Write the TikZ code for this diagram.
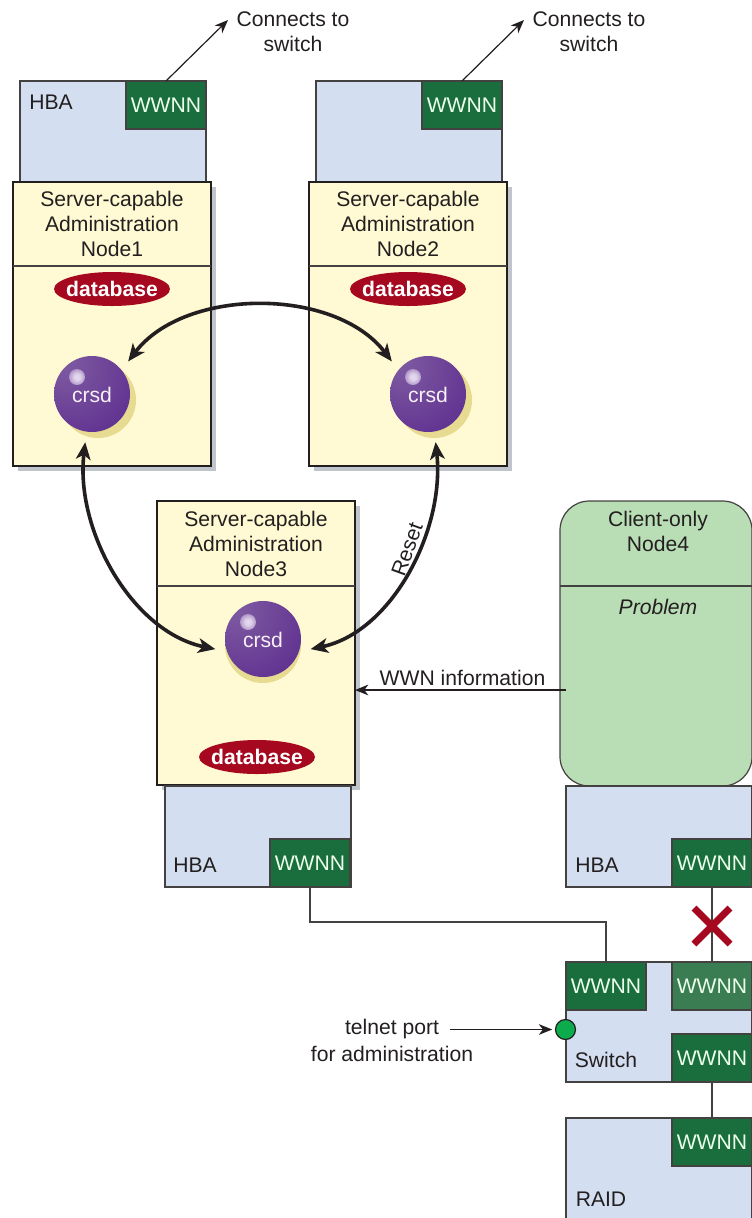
\documentclass[tikz,border=0pt]{standalone}
\usepackage{fontspec}
\setmainfont{Liberation Sans}
\usetikzlibrary{arrows.meta,shadows,calc,shapes.geometric}
\definecolor{ink}{HTML}{231F20}
\definecolor{paleyellow}{HTML}{FFFAD3}
\definecolor{paleblue}{HTML}{D3DEF0}
\definecolor{wgreen}{HTML}{1A6E3E}
\definecolor{wfade}{HTML}{3B7D53}
\definecolor{clientgreen}{HTML}{B9DDB5}
\definecolor{dbred}{HTML}{A6091F}
\definecolor{shadowgray}{HTML}{BFC5CB}
\definecolor{ballshadow}{HTML}{E6DB90}
\definecolor{portgreen}{HTML}{0CAB4B}
\pgfdeclareradialshading{crsdshade}{\pgfpoint{-20bp}{22bp}}{%
  rgb(0bp)=(0.50,0.36,0.64);
  rgb(22bp)=(0.44,0.28,0.60);
  rgb(50bp)=(0.36,0.17,0.56);
  rgb(72bp)=(0.31,0.12,0.51);
  rgb(100bp)=(0.25,0.09,0.43)}
\pgfdeclareradialshading{glintshade}{\pgfpointorigin}{%
  rgb(0bp)=(0.90,0.86,0.94);
  rgb(10bp)=(0.87,0.82,0.92);
  rgb(28bp)=(0.66,0.55,0.76);
  rgb(50bp)=(0.50,0.36,0.64);
  rgb(100bp)=(0.50,0.36,0.64)}
\tikzset{
  px/.style 2 args={minimum width=#1*0.75pt, minimum height=#2*0.75pt},
  mainfont/.style={font=\fontsize{15.85pt}{18.8pt}\selectfont},
  txt/.style={mainfont, text=ink, inner sep=0pt, outer sep=0pt, align=center},
  boxbase/.style={draw=ink!85, line width=0.9pt, fill=paleblue, inner sep=0pt, outer sep=0pt, anchor=north west},
  hbabox/.style={boxbase, px={186}{101}},
  wwnnbox/.style={boxbase, fill=wgreen, px={80}{48}, anchor=north west, text=white!92!green, mainfont},
  serverbox/.style={draw=ink, line width=2.1pt, fill=paleyellow, inner sep=0pt, outer sep=0pt, anchor=north west,
     px={198}{284}, general shadow={fill=shadowgray, shadow xshift=3.8pt, shadow yshift=-3.8pt}},
  dbnode/.style={shape=ellipse, fill=dbred, text=white, font=\fontsize{15.85pt}{18.8pt}\selectfont\bfseries,
     minimum height=25.5pt, minimum width=87pt, inner sep=0pt, outer sep=0pt},
  crsdball/.style={circle, minimum size=57pt, inner sep=0pt, outer sep=8pt},
  thin link/.style={draw=ink!85, line width=0.9pt},
  bold arc/.style={draw=ink, line width=2.7pt,
     {Stealth[length=13pt,width=11pt,inset=3.5pt]}-{Stealth[length=13pt,width=11pt,inset=3.5pt]}},
  thin arrow/.style={draw=ink, line width=0.9pt, -{Stealth[length=10pt,width=8pt,inset=3pt]}},
}
% #1 name, #2 centre, #3 shadow offset
\newcommand{\crsd}[3]{%
  \fill[ballshadow] ($(#2)+(#3)$) circle[radius=38];
  \node[crsdball] (#1) at (#2) {};
  \shade[shading=crsdshade] (#2) circle[radius=38];
  \shade[shading=glintshade] ($(#2)+(-15,-17)$) circle[radius=8];
  \node[txt, text=white!94!violet] (#1t) at ($(#2)+(0,1)$) {crsd};}
\newcommand{\dbtext}{\makebox[0pt][c]{database}}
\begin{document}
\begin{tikzpicture}[x=0.75pt,y=-0.75pt]
\path[use as bounding box, clip] (0,0) rectangle (752,1218);
\fill[white] (0,0) rectangle (752,1218);

% top HBAs
\node[hbabox] (hbaA) at (20,81) {};
\node[wwnnbox] (wA) at (126,81) {WWNN};
\node[txt] (hbaAt) at (51,102) {HBA};
\node[hbabox] (hbaB) at (316,81) {};
\node[wwnnbox] (wB) at (422,81) {WWNN};

% servers
\node[serverbox] (s1) at (13,182) {};
\node[serverbox] (s2) at (309,182) {};
\node[serverbox] (s3) at (157,501) {};
\draw[thin link] (s1.west |- 0,266) coordinate (s1l) -- (s1.east |- s1l);
\draw[thin link] (s2.west |- 0,266) coordinate (s2l) -- (s2.east |- s2l);
\draw[thin link] (s3.west |- 0,586) coordinate (s3l) -- (s3.east |- s3l);
\node[txt] (s1t) at (112,224) {Server-capable\\Administration\\Node1};
\node[txt] (s2t) at (408,224) {Server-capable\\Administration\\Node2};
\node[txt] (s3t) at (256,544) {Server-capable\\Administration\\Node3};
\node[dbnode] (db1) at (112,289) {\dbtext};
\node[dbnode] (db2) at (408,289) {\dbtext};
\node[dbnode] (db3) at (257,757) {\dbtext};

\crsd{c1}{92,394}{6,6}
\crsd{c2}{428,394}{6,6}
\crsd{c3}{263,639}{0,6}

% client node
\coordinate (wwnfrom) at (566,690);
\node[draw=ink!85, line width=0.9pt, fill=clientgreen, rounded corners=22pt, inner sep=0pt, outer sep=0pt, anchor=north west, px={192}{285}] (client) at (560,501) {};
\draw[thin link] (client.west |- 0,586) coordinate (cl) -- (client.east |- cl);
\node[txt] (clientt) at (658,531.5) {Client-only\\Node4};
\node[txt, font=\fontsize{15.85pt}{18.8pt}\selectfont\itshape] (prob) at (658,607) {Problem};

% lower HBAs
\node[hbabox] (hbaC) at (165,786) {};
\node[wwnnbox] (wC) at (270,839) {WWNN};
\node[txt] (hbaCt) at (195,865) {HBA};
\node[hbabox] (hbaD) at (566,786) {};
\node[wwnnbox] (wD) at (672,839) {WWNN};
\node[txt] (hbaDt) at (597,865) {HBA};

% switch and RAID
\node[boxbase, px={186}{120}] (sw) at (566,962) {};
\node[wwnnbox] (wE) at (566,962) {WWNN};
\node[wwnnbox, fill=wfade] (wF) at (672,962) {WWNN};
\node[wwnnbox] (wG) at (672,1034) {WWNN};
\node[txt] (swt) at (606,1060) {Switch};
\node[boxbase, px={186}{110}] (raid) at (566,1118) {};
\node[wwnnbox] (wH) at (672,1118) {WWNN};
\node[txt] (raidt) at (601,1199) {RAID};
\node[circle, draw=ink, line width=0.9pt, fill=portgreen, minimum size=15pt, inner sep=0pt, outer sep=2.5pt] (port) at (565.5,1029.5) {};

% thin links
\draw[thin link] (wC.south) |- (wE.north |- 0,922) coordinate (bendpt) -- (wE.north);
\draw[thin link] (wD.south) -- (wF.north);
\draw[thin link] (wG.south) -- (wH.north);
\coordinate (xmark) at (712,926);
\draw[dbred, line width=5.2pt] ($(xmark)+(-18,-18)$) -- ($(xmark)+(18,18)$);
\draw[dbred, line width=5.2pt] ($(xmark)+(-18,18)$) -- ($(xmark)+(18,-18)$);

% connects to switch
\coordinate (upA) at (228,20);
\coordinate (upB) at (524,20);
\draw[thin arrow] (wA.north) -- (upA);
\draw[thin arrow] (wB.north) -- (upB);
\node[txt] (ctA) at (293,31.5) {Connects to\\switch};
\node[txt] (ctB) at (589,31.5) {Connects to\\switch};

% bold arcs
\draw[bold arc] (c1.42) .. controls (185,287) and (335,287) .. (c2.138);
\draw[bold arc] (c1.262) .. controls (75,530) and (132,632) .. (c3.192);
\draw[bold arc] (c2.279) .. controls (445,530) and (392,632) .. (c3.348);
\node[txt, rotate=70] (reset) at (407,549) {Reset};

% WWN information
\draw[thin arrow] (wwnfrom) -- (s3.east |- wwnfrom);
\node[txt] (wwnt) at (462.5,678) {WWN information};

% telnet
\node[txt] (tel1) at (392,1029) {telnet port};
\node[txt] (tel2) at (392,1054) {for administration};
\draw[thin arrow, shorten <=8pt] (tel1.east |- port.west) -- (port.west);
\end{tikzpicture}
\end{document}
